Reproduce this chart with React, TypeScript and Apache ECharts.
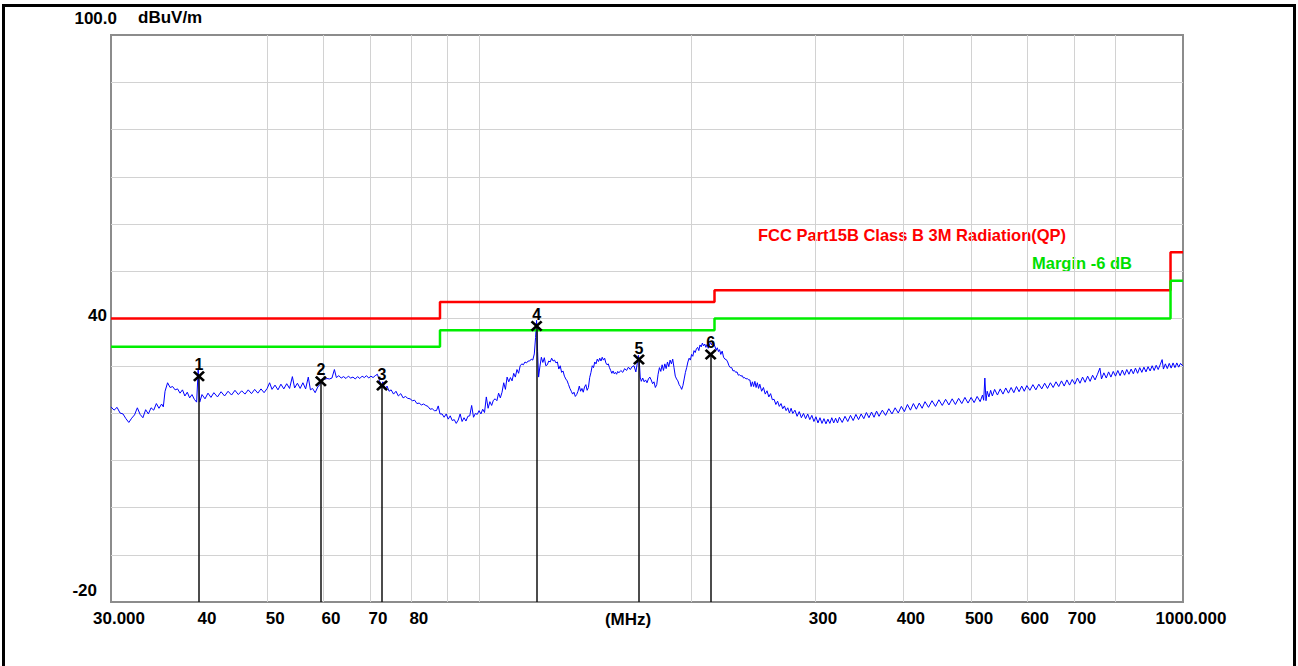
import React, { useEffect, useRef } from "react";
import * as echarts from "echarts";

// ---- data ----
const limitFreqs = [30, 88, 216, 960, 1000];
const limitLevels = [40, 43.5, 46, 54];
const marginDb = 6;

const gridFreqs = [40, 50, 60, 70, 80, 90, 100, 200, 300, 400, 500, 600, 700, 800, 900];
const labelFreqs = [30, 40, 50, 60, 70, 80, 300, 400, 500, 600, 700, 1000];

const markerFreqs = [40.0, 59.6, 72.8, 120.7, 168.7, 213.3];
const markerLevels = [27.8, 26.7, 25.8, 38.4, 31.3, 32.4];

const trace: [number, number][] = [
  [30,21.3],[30.3,20.6],[30.6,21.2],[30.9,20.0],[31.2,19.8],[31.5,18.8],[31.8,18.0],[32.1,18.9],[32.4,19.6],[32.7,21.1],
  [33.0,19.7],[33.3,19.0],[33.6,20.7],[33.9,19.8],[34.2,21.1],[34.5,20.6],[34.8,22.0],[35.1,21.0],[35.4,21.9],[35.6,21.3],
  [35.8,24.6],[36.1,26.4],[36.4,25.4],[36.7,25.6],[37.0,24.9],[37.3,25.1],[37.6,24.2],[37.9,24.9],[38.2,23.6],[38.5,24.4],
  [38.8,23.2],[39.1,23.9],[39.4,22.9],[39.7,22.3],[39.9,29.2],[40.1,22.3],[40.4,23.9],[40.8,23.0],[41.2,24.2],[41.6,23.3],
  [42,24.3],[42.5,23.4],[43,24.5],[43.5,23.6],[44,24.6],[44.5,23.8],[45,24.8],[45.5,23.9],[46,24.7],[46.5,24.0],
  [47,24.9],[47.5,24.1],[48,25.0],[48.5,24.2],[49,25.1],[49.5,24.3],[50,25.2],[50.4,26.4],[50.8,25.0],[51.3,25.9],
  [51.8,24.9],[52.3,26.1],[52.8,25.1],[53.3,26.2],[53.8,25.2],[54.3,27.7],[54.7,25.3],[55.2,26.3],[55.7,25.2],[56.2,26.4],
  [56.7,25.1],[57.2,27.6],[57.6,24.9],[58.0,25.2],[58.5,24.3],[59.0,25.5],[59.4,26.0],[59.8,27.2],[60.3,27.1],[60.8,27.3],
  [61.3,27.2],[61.8,27.4],[62.3,29.2],[62.7,27.5],[63.2,27.9],[63.7,27.4],[64.2,27.7],[64.7,27.3],[65.2,27.8],[65.7,27.4],
  [66.2,27.6],[66.7,27.2],[67.2,27.7],[67.7,27.3],[68.2,27.8],[68.7,27.5],[69.2,27.9],[69.7,27.4],[70.2,27.8],[70.7,27.5],
  [71.2,27.9],[71.7,28.2],[72.2,26.9],[72.6,25.4],[73.0,26.6],[73.5,25.0],[74.0,25.7],[74.5,24.6],[75.0,24.9],[75.6,24.0],
  [76.2,24.6],[76.8,23.6],[77.4,24.1],[78.0,23.2],[78.6,23.5],[79.2,23.1],[79.8,23.0],[80.4,22.6],[81.0,22.7],[81.6,22.0],
  [82.2,22.1],[82.8,21.7],[83.4,21.9],[84.0,21.6],[84.6,21.4],[85.2,20.8],[85.8,20.9],[86.4,20.5],[87.0,20.5],[87.5,21.5],
  [88.0,19.8],[88.6,19.8],[89.2,19.1],[89.8,19.8],[90.4,18.7],[91.0,19.4],[91.6,18.4],[92.2,18.6],[92.8,17.8],[93.4,18.5],
  [94.0,19.8],[94.6,18.2],[95.2,19.0],[95.8,18.3],[96.4,19.3],[97.0,19.4],[97.6,21.6],[98.2,19.1],[98.8,19.9],[99.4,19.7],
  [100,20.5],[100.6,19.8],[101.2,20.8],[101.8,20.1],[102.4,23.4],[103,21.0],[103.6,22.4],[104.2,21.6],[104.8,22.7],[105.4,23.0],
  [106,22.6],[106.6,24.2],[107.2,23.2],[107.8,24.4],[108.4,26.4],[109,25.0],[109.6,27.6],[110.2,26.6],[110.8,27.5],[111.4,26.8],
  [112,28.4],[112.6,27.6],[113.2,29.2],[113.8,28.4],[114.4,30.0],[115,30.4],[115.6,30.2],[116.2,30.8],[116.8,30.6],[117.4,31.0],
  [118,31.0],[118.6,31.4],[119.2,31.2],[119.8,32.5],[120.3,36.0],[120.7,39.6],[121.1,33.0],[121.5,27.6],[122,29.8],[122.6,31.8],
  [123.2,30.7],[123.8,31.7],[124.4,30.0],[125,30.2],[125.6,31.0],[126.2,30.8],[126.8,31.6],[127.4,31.0],[128,31.2],[128.6,30.6],
  [129.2,30.8],[129.8,29.3],[130.4,30.0],[131,28.6],[131.6,28.9],[132.2,27.8],[132.8,27.2],[133.4,26.8],[134,26.0],[134.6,25.2],
  [135.2,24.6],[135.8,24.0],[136.4,24.4],[137,23.5],[137.6,23.9],[138.2,24.6],[138.8,25.7],[139.4,24.6],[140,25.2],[140.6,24.4],
  [141.2,25.5],[141.8,26.0],[142.4,24.8],[143,25.4],[143.6,27.5],[144.2,28.6],[144.8,30.0],[145.4,29.6],[146,30.8],[146.6,30.4],
  [147.2,31.4],[147.8,30.9],[148.4,31.6],[149,31.0],[149.6,31.8],[150.2,31.2],[150.8,31.6],[151.4,30.6],[152,30.2],[152.6,30.4],
  [153.2,29.6],[153.8,29.0],[154.4,28.4],[155,28.9],[155.6,28.3],[156.2,28.6],[156.8,28.2],[157.4,28.8],[158,28.5],[159,29.0],
  [160,28.6],[161,29.4],[162,29.0],[163,29.7],[164,29.2],[165,29.8],[166,30.0],[167,28.7],[167.8,30.5],[168.4,32.2],
  [168.9,31.0],[169.4,27.6],[170,26.7],[170.8,27.4],[171.6,26.6],[172.4,27.0],[173.2,26.4],[174,27.2],[174.8,27.6],[175.6,27.0],
  [176.4,26.2],[177.2,26.6],[178,25.4],[178.8,26.0],[179.6,28.2],[180.4,29.6],[181.2,28.8],[182,30.2],[182.8,29.0],[183.6,30.4],
  [184.4,29.4],[185.2,30.8],[186,29.8],[186.8,31.2],[187.6,30.4],[188.4,31.4],[189.2,29.6],[190,27.8],[190.8,27.2],[191.6,26.8],
  [192.4,26.0],[193.2,25.6],[194,25.0],[194.8,25.8],[195.6,27.2],[196.4,28.6],[197.2,29.6],[198,30.8],[198.8,31.6],[199.6,31.2],
  [200.4,32.4],[201.2,32.0],[202,33.2],[202.8,32.8],[203.6,33.6],[204.4,33.9],[205.2,33.2],[206,34.4],[206.8,34.0],[207.6,34.8],
  [208.4,34.2],[209.2,34.6],[210,33.9],[210.8,34.5],[211.6,33.7],[212.4,34.4],[213.2,34.9],[214,34.4],[214.8,35.2],[215.6,34.6],
  [216.4,34.0],[217.2,33.3],[218,33.8],[218.8,33.0],[219.6,33.4],[220.5,32.4],[221.5,33.1],[222.5,31.8],[223.5,31.4],[224.5,31.3],
  [225.5,30.8],[226.5,30.0],[227.5,29.6],[228.5,29.6],[229.5,28.9],[230.5,29.0],[231.5,28.6],[232.5,28.7],[233.5,28.0],[234.5,28.1],
  [235.5,27.8],[236.5,27.9],[237.5,27.4],[238.5,27.5],[239.5,27.2],[240.5,27.3],[241.5,27.0],[242.5,27.0],[243.5,25.6],[244.5,26.6],
  [245.5,25.6],[246.5,26.7],[247.5,25.4],[248.5,26.4],[249.5,25.2],[250.5,26.1],[252,24.6],[253.5,25.4],[255,24.0],[256.5,24.7],
  [258,23.4],[259.5,24.1],[261,22.8],[262.5,22.9],[264,21.8],[265.5,22.5],[267,21.4],[268.5,22.0],[270,20.9],[271.5,21.5],
  [273,20.5],[274.5,21.1],[276,20.0],[277.5,21.0],[279,19.9],[281,20.6],[283,19.3],[285,20.3],[287,19.0],[289,19.9],
  [291,18.8],[293,19.8],[295,18.6],[297,19.5],[299,18.2],[301,19.2],[303,17.9],[305,19.0],[307,17.8],[309,18.8],
  [311,17.7],[313,18.7],[315,17.8],[317,19.0],[319,17.9],[321,18.9],[323,17.9],[325,19.1],[328,18.0],[331,19.3],
  [334,18.2],[337,19.5],[340,18.4],[343,19.7],[346,18.6],[349,19.8],[352,18.8],[355,20.1],[358,19.0],[361,20.2],
  [364,19.1],[367,20.4],[370,19.3],[374,20.6],[378,19.5],[382,20.9],[386,19.8],[390,21.1],[394,20.0],[398,21.4],
  [402,20.3],[406,21.8],[410,20.6],[414,22.0],[418,20.8],[422,22.1],[426,21.0],[430,22.4],[435,21.2],[440,22.6],
  [445,21.4],[450,22.8],[455,21.6],[460,22.9],[465,21.7],[470,23.0],[475,21.8],[480,23.1],[485,22.0],[490,23.3],
  [495,22.1],[500,23.3],[505,22.2],[510,23.5],[515,22.4],[519,23.8],[521,22.7],[523,27.4],[525,22.6],[527,24.6],
  [530,23.4],[533,24.8],[536,23.6],[540,25.0],[545,23.8],[550,25.1],[555,24.0],[560,25.3],[565,24.2],[570,25.4],
  [575,24.3],[580,25.6],[585,24.5],[590,25.7],[595,24.6],[600,25.8],[606,24.8],[612,26.0],[618,24.9],[624,26.1],
  [630,25.1],[636,26.3],[642,25.2],[648,26.4],[654,25.4],[660,26.6],[666,25.6],[672,26.8],[678,25.7],[684,27.0],
  [690,25.9],[696,27.1],[702,26.1],[708,27.4],[714,26.3],[720,27.6],[726,26.5],[732,27.8],[738,26.7],[744,28.0],
  [750,27.0],[756,28.2],[762,29.5],[766,27.2],[772,28.5],[778,27.4],[784,28.7],[790,27.6],[796,28.8],[802,27.8],
  [808,29.0],[814,27.9],[820,29.1],[826,28.0],[832,29.2],[838,28.2],[844,29.3],[850,28.3],[856,29.5],[862,28.4],
  [868,29.6],[874,28.6],[880,29.7],[886,28.7],[892,29.8],[898,28.9],[904,30.0],[910,29.0],[916,30.1],[922,29.2],
  [928,30.2],[934,31.3],[938,29.3],[944,30.4],[950,29.4],[956,30.5],[962,29.5],[968,30.6],[974,29.6],[980,30.6],
  [986,29.7],[992,30.5],[1000,29.9]
];

const limitText = "FCC Part15B Class B 3M Radiation(QP)";
const marginText = "Margin -6 dB";

function stepData(offset: number): [number, number][] {
  const out: [number, number][] = [];
  for (let i = 0; i < limitLevels.length; i++) {
    out.push([limitFreqs[i], limitLevels[i] - offset]);
    out.push([limitFreqs[i + 1], limitLevels[i] - offset]);
  }
  return out;
}

const FONT = "'Liberation Sans', Arial, sans-serif";
const X_SHAPE =
  "path://M0,1.6L1.6,0L5,3.4L8.4,0L10,1.6L6.6,5L10,8.4L8.4,10L5,6.6L1.6,10L0,8.4L3.4,5Z";

export default function App() {
  const ref = useRef<HTMLDivElement>(null);
  useEffect(() => {
    if (!ref.current) return;
    const chart = echarts.init(ref.current, undefined, { renderer: "svg" });
    const labelStyle = { fontFamily: FONT, fontWeight: "bold", fontSize: 17, color: "#000" };
    chart.setOption({
      animation: false,
      backgroundColor: "#fff",
      grid: {
        show: true,
        left: 111,
        right: 115,
        top: 35,
        bottom: 64,
        borderColor: "#8c8c8c",
        borderWidth: 2,
        backgroundColor: "#fff",
      },
      xAxis: {
        type: "log",
        logBase: 10,
        min: 30,
        max: 1000,
        axisLine: { show: false },
        axisTick: { show: false, customValues: gridFreqs },
        splitLine: { show: true, showMinLine: false, showMaxLine: false, lineStyle: { color: "#d2d2d2", width: 1 } },
        minorSplitLine: { show: false },
        axisLabel: {
          customValues: labelFreqs,
          formatter: (v: number) => (v === 30 ? "30.000" : v === 1000 ? "1000.000" : String(v)),
          margin: 8,
          padding: [0, 0, 0, 16],
          ...labelStyle,
        },
      },
      yAxis: {
        type: "value",
        min: -20,
        max: 100,
        interval: 10,
        axisLine: { show: false },
        axisTick: { show: false },
        splitLine: { show: true, showMinLine: false, showMaxLine: false, lineStyle: { color: "#d2d2d2", width: 1 } },
        name: "dBuV/m",
        nameLocation: "end",
        nameGap: 9,
        nameTextStyle: { ...labelStyle, align: "left", padding: [0, 0, 0, 27] },
        axisLabel: {
          margin: -6,
          formatter: (v: number) =>
            v === 100 ? "{t|100.0}" : v === 40 ? "{m|40}" : v === -20 ? "{b|-20}" : "",
          rich: {
            t: { ...labelStyle, padding: [0, 0, 34, 0] },
            m: { ...labelStyle, padding: [0, 10, 6, 0] },
            b: { ...labelStyle, padding: [0, 20, 24, 0] },
          },
        },
      },
      series: [
        {
          name: "trace",
          type: "line",
          data: trace,
          showSymbol: false,
          symbol: "none",
          lineStyle: { color: "#0000ff", width: 1 },
          z: 2,
        },
        {
          name: "limit",
          type: "line",
          data: stepData(0),
          symbol: "none",
          lineStyle: { color: "#ff0000", width: 2.5 },
          z: 3,
        },
        {
          name: "margin",
          type: "line",
          data: stepData(marginDb),
          symbol: "none",
          lineStyle: { color: "#00ee00", width: 2.5 },
          z: 3,
        },
        {
          name: "markers",
          type: "scatter",
          data: markerFreqs.map((f, i) => [f, markerLevels[i]]),
          symbol: X_SHAPE,
          symbolSize: [12, 11],
          itemStyle: { color: "#000", opacity: 1 },
          z: 5,
          label: {
            show: true,
            position: "top",
            distance: -2,
            formatter: (p: any) => String(p.dataIndex + 1),
            fontFamily: FONT,
            fontWeight: "bold",
            fontSize: 16,
            color: "#000",
          },
          markLine: {
            silent: true,
            symbol: "none",
            label: { show: false },
            lineStyle: { color: "#111", width: 1.5, type: "solid" },
            data: markerFreqs.map((f, i) => [
              { coord: [f, markerLevels[i]] },
              { coord: [f, -20] },
            ]),
          },
        },
      ],
      graphic: [
        {
          type: "rect",
          shape: { x: 3.5, y: 5.5, width: 1291, height: 700 },
          style: { fill: "none", stroke: "#000", lineWidth: 3 },
          silent: true,
        },
        {
          type: "text",
          x: 628,
          y: 619,
          style: {
            text: "(MHz)",
            font: `bold 17px ${FONT}`,
            fill: "#000",
            align: "center",
            verticalAlign: "middle",
          },
        },
        {
          type: "text",
          x: 758,
          y: 235,
          style: {
            text: limitText,
            font: `bold 16.5px ${FONT}`,
            fill: "#ff0000",
            align: "left",
            verticalAlign: "middle",
          },
        },
        {
          type: "text",
          x: 1032,
          y: 263,
          style: {
            text: marginText,
            font: `bold 16.5px ${FONT}`,
            fill: "#00e000",
            align: "left",
            verticalAlign: "middle",
          },
        },
      ],
    });
    return () => chart.dispose();
  }, []);
  return (
    <div
      ref={ref}
      style={{ position: "absolute", left: 0, top: 0, width: 1298, height: 666 }}
    />
  );
}
